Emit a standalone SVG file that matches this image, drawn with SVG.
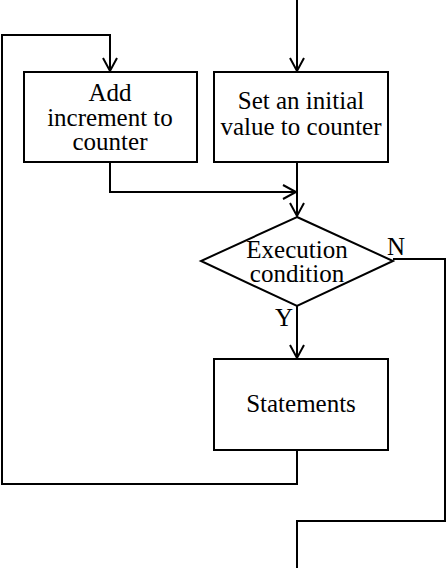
<svg xmlns="http://www.w3.org/2000/svg" width="447" height="568" viewBox="0 0 447 568">
<style>
.box{fill:#fff;stroke:#000;stroke-width:2}
.ln{fill:none;stroke:#000;stroke-width:2}
.ah{fill:none;stroke:#000;stroke-width:2}
text{font-family:"Liberation Serif","Times New Roman",serif;font-size:25px;fill:#000;text-anchor:middle}
</style>
<rect width="447" height="568" fill="#fff"/>
<g id="connectors">
<path class="ln" d="M297,0 V71"/>
<path class="ah" d="M290,58 L297,71 L304,58"/>
<path class="ln" d="M297,163 V216"/>
<path class="ah" d="M290,203 L297,216 L304,203"/>
<path class="ln" d="M110,163 V192 H296"/>
<path class="ah" d="M283,185 L296,192 L283,199"/>
<path class="ln" d="M297,306 V358"/>
<path class="ah" d="M290,345 L297,358 L304,345"/>
<path class="ln" d="M297,450 V484 H2 V35 H110 V71"/>
<path class="ah" d="M103,58 L110,71 L117,58"/>
<path class="ln" d="M393,259 H445 V521 H297 V568"/>
<text x="396" y="255">N</text>
<text x="284" y="326">Y</text>
</g>
<g id="add">
<rect class="box" x="24" y="72" width="173" height="90"/>
<text x="110" y="101">Add</text>
<text x="110" y="126">increment to</text>
<text x="110" y="150">counter</text>
</g>
<g id="init">
<rect class="box" x="214" y="72" width="174" height="90"/>
<text x="301" y="109">Set an initial</text>
<text x="301" y="135">value to counter</text>
</g>
<g id="cond">
<path class="box" d="M297,217 L393,261 L297,306 L201,261 Z"/>
<text x="297" y="258">Execution</text>
<text x="297" y="282">condition</text>
</g>
<g id="stmts">
<rect class="box" x="214" y="359" width="174" height="91"/>
<text x="301" y="412">Statements</text>
</g>
</svg>
